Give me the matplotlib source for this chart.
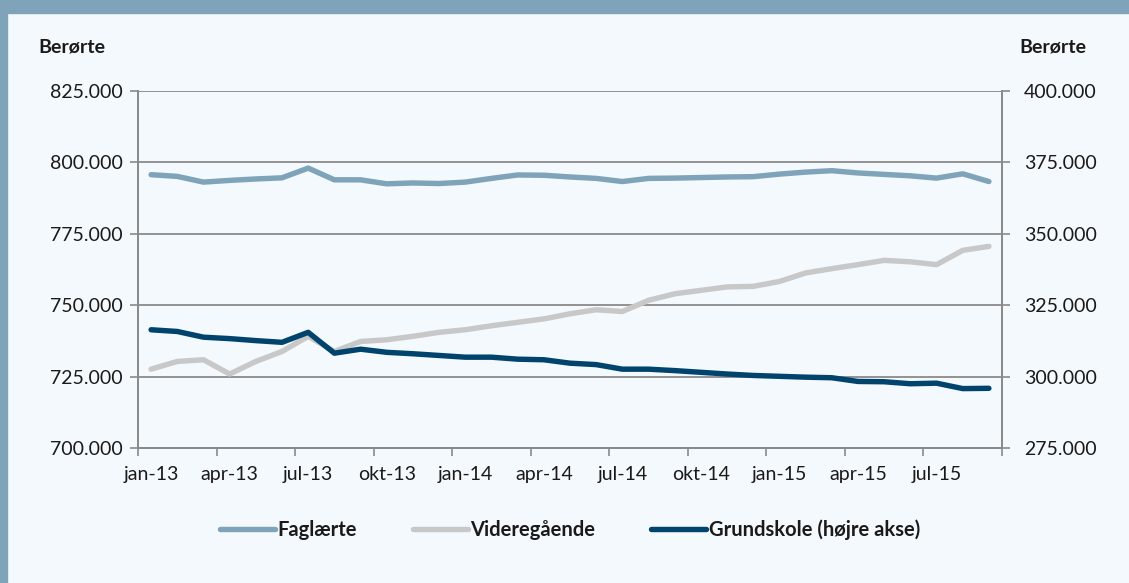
import matplotlib
matplotlib.use("Agg")
import matplotlib.pyplot as plt
import numpy as np
from matplotlib.patches import Rectangle
from matplotlib.ticker import FuncFormatter

plt.rcParams['font.family'] = ['Lato', 'DejaVu Sans']

months = ['jan-13', 'feb-13', 'mar-13', 'apr-13', 'maj-13', 'jun-13', 'jul-13', 'aug-13', 'sep-13',
          'okt-13', 'nov-13', 'dec-13', 'jan-14', 'feb-14', 'mar-14', 'apr-14', 'maj-14', 'jun-14',
          'jul-14', 'aug-14', 'sep-14', 'okt-14', 'nov-14', 'dec-14', 'jan-15', 'feb-15', 'mar-15',
          'apr-15', 'maj-15', 'jun-15', 'jul-15', 'aug-15', 'sep-15']

faglaerte = [795700, 795100, 793100, 793700, 794200, 794600, 798000, 793900, 793900, 792500,
             792800, 792600, 793100, 794400, 795600, 795500, 794900, 794400, 793300, 794400,
             794500, 794700, 794900, 795000, 795900, 796600, 797100, 796300, 795800, 795300,
             794500, 796000, 793300]

videregaaende = [727600, 730300, 730900, 725900, 730300, 733800, 739100, 733800, 737300, 737900,
                 739100, 740500, 741400, 742800, 744000, 745200, 747000, 748400, 747800, 751700,
                 754000, 755200, 756400, 756600, 758300, 761300, 762800, 764200, 765700, 765200,
                 764200, 769200, 770600]

grundskole = [316400, 315800, 313800, 313300, 312600, 312000, 315500, 308200, 309600, 308500,
              308000, 307400, 306800, 306800, 306100, 305900, 304700, 304200, 302600, 302600,
              302100, 301500, 300900, 300400, 300100, 299800, 299600, 298300, 298200, 297500,
              297700, 295800, 295900]

left_ticks = [700000, 725000, 750000, 775000, 800000, 825000]
right_ticks = [275000, 300000, 325000, 350000, 375000, 400000]

bg = '#f4f9fd'
frame = '#7fa3b8'
c_fag = '#7fa3b8'
c_vid = '#c8c8c8'
c_grund = '#00446e'
axis_gray = '#8a8a8a'
text_col = '#1a1a1a'
fs = 14

fig = plt.figure(figsize=(11.29, 5.83), dpi=100, facecolor=bg)
ax = fig.add_axes([138 / 1129, 1 - 448 / 583, 864 / 1129, 357 / 583])
ax.set_facecolor(bg)
ax2 = ax.twinx()

x = np.arange(len(months))
lw = 3.9
l1, = ax.plot(x, faglaerte, color=c_fag, lw=lw, solid_capstyle='round', solid_joinstyle='round',
              label='Faglærte')
l2, = ax.plot(x, videregaaende, color=c_vid, lw=lw, solid_capstyle='round', solid_joinstyle='round',
              label='Videregående')
l3, = ax2.plot(x, grundskole, color=c_grund, lw=lw, solid_capstyle='round', solid_joinstyle='round',
               label='Grundskole (højre akse)')

fmt = FuncFormatter(lambda v, p: f'{v:,.0f}'.replace(',', '.'))
ax.set_ylim(left_ticks[0], left_ticks[-1])
ax.set_yticks(left_ticks)
ax.yaxis.set_major_formatter(fmt)
ax2.set_ylim(right_ticks[0], right_ticks[-1])
ax2.set_yticks(right_ticks)
ax2.yaxis.set_major_formatter(fmt)

ax.set_xlim(-0.5, len(months) - 0.5)
ax.set_xticks(np.arange(-0.5, len(months), 3))
ax.set_xticklabels([])
ax.set_xticks(x[::3], minor=True)
ax.set_xticklabels(months[::3], minor=True)
ax.tick_params(axis='x', which='major', length=6, width=1.2, color=axis_gray)
ax.tick_params(axis='x', which='minor', length=0, pad=13, labelsize=fs, labelcolor=text_col)
ax.tick_params(axis='y', length=6, width=1.2, color=axis_gray, pad=5, labelsize=fs,
               labelcolor=text_col)
ax2.tick_params(axis='y', length=6, width=1.2, color=axis_gray, pad=10, labelsize=fs,
                labelcolor=text_col)

ax.grid(axis='y', color=axis_gray, lw=1.3)
ax.set_axisbelow(True)
for a in (ax, ax2):
    a.spines['top'].set_visible(False)
    for s in ('left', 'right', 'bottom'):
        a.spines[s].set_color(axis_gray)
        a.spines[s].set_linewidth(1.3)

fig.text(38 / 1129, 1 - 47 / 583, 'Berørte', fontsize=14, fontweight='bold', color=text_col,
         ha='left', va='center')
fig.text(1019 / 1129, 1 - 47 / 583, 'Berørte', fontsize=14, fontweight='bold', color=text_col,
         ha='left', va='center')

leg = fig.legend(handles=[l1, l2, l3], loc='center', bbox_to_anchor=(570 / 1129, 1 - 530 / 583),
                 ncol=3, frameon=False, handlelength=2.75, handletextpad=0.12, columnspacing=2.75,
                 prop={'weight': 'bold', 'size': 14.5})
for t in leg.get_texts():
    t.set_color(text_col)

# frame around the panel
fig.patches.append(Rectangle((0, 1 - 13 / 583), 1, 13 / 583, transform=fig.transFigure,
                             color=frame, zorder=0))
fig.patches.append(Rectangle((0, 0), 7 / 1129, 1, transform=fig.transFigure, color=frame, zorder=0))

fig.savefig('out.png', dpi=100, facecolor=bg)
